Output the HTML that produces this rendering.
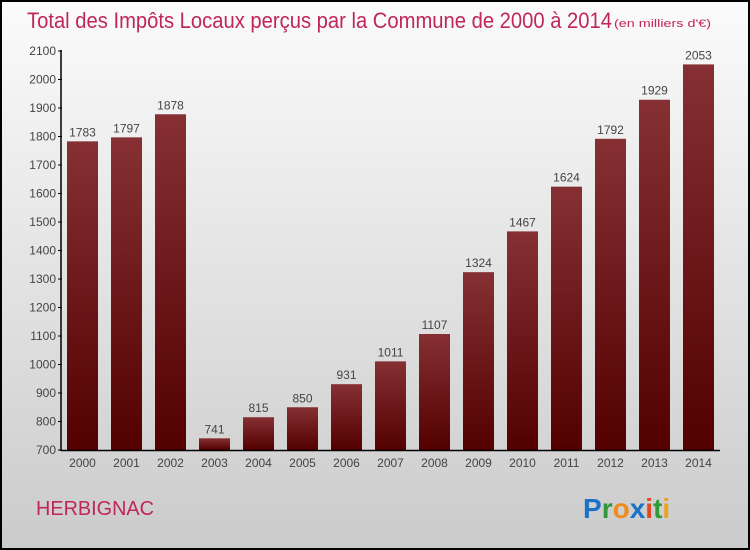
<!DOCTYPE html>
<html><head><meta charset="utf-8"><style>
body{margin:0;}
#c{width:750px;height:550px;position:relative;box-sizing:border-box;border:2px solid #000;background:linear-gradient(#fbfbfb,#cbcbcb);font-family:"Liberation Sans",sans-serif;overflow:hidden}
svg{position:absolute;left:-2px;top:-2px}
</style></head><body>
<div id="c">
<svg id="s" width="750" height="550">
<defs><linearGradient id="g" x1="0" y1="0" x2="0" y2="1"><stop offset="0" stop-color="#863034"/><stop offset="1" stop-color="#520000"/></linearGradient></defs>
<text x="27" y="28" font-size="22" fill="#c0265a" textLength="585" lengthAdjust="spacingAndGlyphs">Total des Impôts Locaux perçus par la Commune de 2000 à 2014</text>
<text x="614" y="27" font-size="11" fill="#c0265a" textLength="97" lengthAdjust="spacingAndGlyphs">(en milliers d'€)</text>
<text x="36" y="515" font-size="20" fill="#c0265a" textLength="118" lengthAdjust="spacingAndGlyphs">HERBIGNAC</text>
<text x="583" y="518" font-size="28" font-weight="bold"><tspan fill="#1a73c8">P</tspan><tspan fill="#2e9a3a">r</tspan><tspan fill="#f08a1c">o</tspan><tspan fill="#1a73c8">x</tspan><tspan fill="#e04a1c">i</tspan><tspan fill="#2e9a3a">t</tspan><tspan fill="#f0a01c">i</tspan></text>
</svg></div>
<script>
const years=["2000","2001","2002","2003","2004","2005","2006","2007","2008","2009","2010","2011","2012","2013","2014"];
const values=[1783,1797,1878,741,815,850,931,1011,1107,1324,1467,1624,1792,1929,2053];
const yTicks=[700,800,900,1000,1100,1200,1300,1400,1500,1600,1700,1800,1900,2000,2100];
const s=document.getElementById('s'),NS='http://www.w3.org/2000/svg';
const y=v=>450-(v-700)*(399/1400);
const x=i=>67+i*44;
function mk(t,a,txt){const e=document.createElementNS(NS,t);for(const k in a)e.setAttribute(k,a[k]);if(txt!==undefined)e.textContent=txt;s.appendChild(e);return e;}
yTicks.forEach(v=>{
 const l=mk('line',{x1:58,x2:62,y1:y(v),y2:y(v),stroke:'#000'});
 
 
 const t=mk('text',{x:56,y:y(v)+4,'text-anchor':'end','font-size':12,fill:'#444'},v);
 
 
});
values.forEach((v,i)=>{
 const r=mk('rect',{x:x(i),y:y(v),width:31,height:450-y(v),fill:'url(#g)'});
 
 
 const t=mk('text',{x:x(i)+15.5,y:y(v)-5,'text-anchor':'middle','font-size':12,fill:'#444'},v);
 
 
 const yl=mk('text',{x:x(i)+15.5,y:467,'text-anchor':'middle','font-size':12,fill:'#444'},years[i]);
 
 
});
const ya=mk('line',{x1:61,x2:61,y1:50,y2:451,stroke:'#000','stroke-width':1.5});


const xa=mk('line',{x1:61,x2:720,y1:450.5,y2:450.5,stroke:'#000','stroke-width':1.5});


</script>
</body></html>
